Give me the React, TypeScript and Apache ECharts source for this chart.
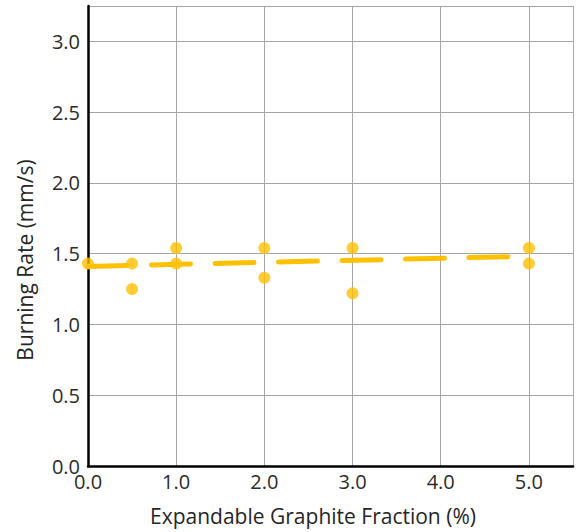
import React, { useEffect, useRef } from "react";
import * as echarts from "echarts";

const fractions = [0, 0.5, 0.5, 1, 1, 2, 2, 3, 3, 5, 5];
const burningRates = [1.43, 1.43, 1.25, 1.54, 1.43, 1.54, 1.33, 1.54, 1.22, 1.54, 1.43];
const trendX = [0, 4.85];
const trendY = [1.41, 1.48];
const xLabel = "Expandable Graphite Fraction (%)";
const yLabel = "Burning Rate (mm/s)";

export default function App() {
  const ref = useRef<HTMLDivElement>(null);
  useEffect(() => {
    if (!ref.current) return;
    const chart = echarts.init(ref.current, undefined, { renderer: "svg" });
    const font = "'Open Sans', 'Noto Sans', sans-serif";
    chart.setOption({
      animation: false,
      backgroundColor: "#ffffff",
      grid: { left: 88, top: 6, right: 5, bottom: 66 },
      xAxis: {
        type: "value",
        min: 0,
        max: 5.5,
        interval: 1,
        axisLine: { show: true, onZero: false, lineStyle: { color: "#000", width: 2.5 } },
        axisTick: { show: false },
        splitLine: { show: true, lineStyle: { color: "#a6a6a6", width: 1 } },
        axisLabel: {
          color: "#2b2b2b",
          fontSize: 20,
          fontFamily: font,
          margin: 5,
          formatter: (v: number) => (v > 5.01 ? "" : v.toFixed(1)),
        },
      },
      yAxis: {
        type: "value",
        min: 0,
        max: 3.25,
        interval: 0.5,
        axisLine: { show: true, lineStyle: { color: "#000", width: 2.5 } },
        axisTick: { show: false },
        splitLine: { show: true, lineStyle: { color: "#a6a6a6", width: 1 } },
        axisLabel: {
          color: "#2b2b2b",
          fontSize: 20,
          fontFamily: font,
          margin: 8,
          formatter: (v: number) => (v > 3.01 ? "" : v.toFixed(1)),
        },
      },
      graphic: [
        {
          type: "text",
          x: 313,
          y: 516,
          style: {
            text: xLabel,
            fontSize: 21,
            fontFamily: font,
            fill: "#262626",
            align: "center",
            verticalAlign: "middle",
          },
        },
        {
          type: "text",
          x: 25,
          y: 260,
          rotation: Math.PI / 2,
          style: {
            text: yLabel,
            fontSize: 21,
            fontFamily: font,
            fill: "#262626",
            align: "center",
            verticalAlign: "middle",
          },
        },
      ],
      series: [
        {
          type: "line",
          data: trendX.map((x, i) => [x, trendY[i]]),
          showSymbol: false,
          symbol: "none",
          lineStyle: { color: "#FFC000", width: 5, type: [39, 24.5], cap: "round" },
          z: 2,
        },
        {
          type: "scatter",
          data: fractions.map((x, i) => [x, burningRates[i]]),
          symbol: "circle",
          symbolSize: 12,
          itemStyle: { color: "#FFC000" },
          z: 3,
        },
      ],
    });
    return () => chart.dispose();
  }, []);
  return <div ref={ref} style={{ width: 578, height: 532, position: "absolute", left: 0, top: 0 }} />;
}
